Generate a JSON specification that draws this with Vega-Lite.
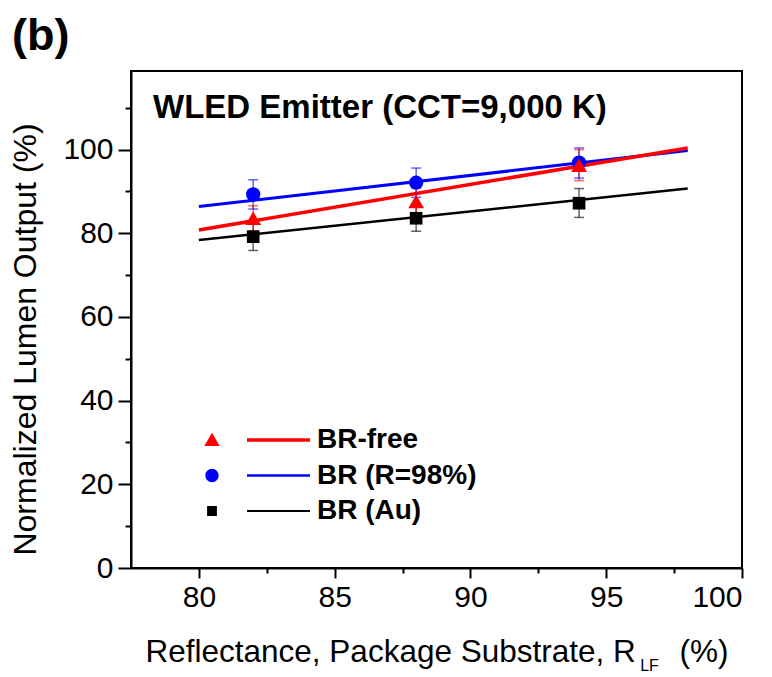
{
  "$schema": "https://vega.github.io/schema/vega-lite/v6.json",
  "width": 611,
  "height": 497,
  "autosize": {"type": "none"},
  "padding": {"left": 131, "top": 71, "right": 30, "bottom": 109},
  "background": "white",
  "title": {"text": "(b)", "anchor": "start", "frame": "group", "fontSize": 45, "fontWeight": "bold", "font": "Liberation Sans", "color": "black", "dx": -119, "dy": 43, "offset": 19, "baseline": "alphabetic"},
  "config": {
    "font": "Liberation Sans",
    "view": {"stroke": "black", "strokeWidth": 2},
    "axis": {"grid": false, "domainColor": "black", "domainWidth": 2, "tickColor": "black", "tickWidth": 2, "labelFontSize": 30, "labelColor": "black", "titleFontSize": 31.5, "titleFontWeight": "normal", "titleColor": "black"},
    "legend": {"padding": 0}
  },
  "resolve": {"scale": {"shape": "independent", "fill": "independent"}},
  "datasets": {
    "pts": [
      {"x": 82, "y": 79.2, "lo": 75.9, "hi": 82.5, "series": "BR (Au)"},
      {"x": 88, "y": 83.6, "lo": 80.5, "hi": 86.7, "series": "BR (Au)"},
      {"x": 94, "y": 87.2, "lo": 83.8, "hi": 90.7, "series": "BR (Au)"},
      {"x": 82, "y": 89.3, "lo": 85.8, "hi": 92.8, "series": "BR (R=98%)"},
      {"x": 88, "y": 92.1, "lo": 88.6, "hi": 95.6, "series": "BR (R=98%)"},
      {"x": 94, "y": 96.9, "lo": 93.2, "hi": 100.4, "series": "BR (R=98%)"},
      {"x": 82, "y": 83.6, "lo": 80.6, "hi": 86.6, "series": "BR-free"},
      {"x": 88, "y": 87.6, "lo": 84.4, "hi": 90.8, "series": "BR-free"},
      {"x": 94, "y": 96.3, "lo": 92.6, "hi": 100.0, "series": "BR-free"}
    ],
    "fits": [
      {"x": 80, "y": 78.4, "fit": "BR (Au)"},
      {"x": 98, "y": 90.7, "fit": "BR (Au)"},
      {"x": 80, "y": 86.4, "fit": "BR (R=98%)"},
      {"x": 98, "y": 99.8, "fit": "BR (R=98%)"},
      {"x": 80, "y": 80.8, "fit": "BR-free"},
      {"x": 98, "y": 100.4, "fit": "BR-free"}
    ],
    "labels": [
      {"x": 78.31, "y": 109.9, "text": "WLED Emitter (CCT=9,000 K)"}
    ],
    "sub": [
      {"x": 96.25, "y": -24.6, "text": "LF"}
    ]
  },
  "layer": [
    {
      "data": {"name": "fits"},
      "mark": {"type": "line"},
      "encoding": {
        "x": {"field": "x", "type": "quantitative", "scale": {"domain": [77.5, 100], "nice": false, "zero": false},
          "axis": {"values": [80, 82.5, 85, 87.5, 90, 92.5, 95, 97.5, 100], "labelExpr": "datum.value % 5 === 0 ? datum.label : ''", "tickSize": {"condition": {"test": "datum.value % 5 === 0", "value": 10}, "value": 5}, "labelPadding": 4, "title": "Reflectance, Package Substrate, R\u00a0\u00a0\u00a0\u00a0\u00a0(%)", "titlePadding": 24}},
        "y": {"field": "y", "type": "quantitative", "scale": {"domain": [0, 118.8], "nice": false},
          "axis": {"values": [0, 10, 20, 30, 40, 50, 60, 70, 80, 90, 100, 110], "labelExpr": "datum.value % 20 === 0 ? datum.label : ''", "tickSize": {"condition": {"test": "datum.value % 20 === 0", "value": 13}, "value": 6}, "labelPadding": 5, "title": "Normalized Lumen Output (%)", "titleFontSize": 32, "titleY": 268, "titlePadding": 20}},
        "stroke": {"field": "fit", "type": "nominal", "scale": {"domain": ["BR-free", "BR (R=98%)", "BR (Au)"], "range": ["#ff0000", "#0000ff", "#000000"]}, "legend": null},
        "strokeWidth": {"field": "fit", "type": "nominal", "scale": {"domain": ["BR-free", "BR (R=98%)", "BR (Au)"], "range": [3.5, 2.5, 1.8]}, "legend": null}
      }
    },
    {
      "data": {"name": "pts"},
      "mark": {"type": "rule", "strokeWidth": 1.5, "opacity": 0.6},
      "encoding": {
        "x": {"field": "x", "type": "quantitative"},
        "y": {"field": "lo", "type": "quantitative"},
        "y2": {"field": "hi"},
        "color": {"field": "series", "type": "nominal", "legend": null}
      }
    },
    {
      "data": {"name": "pts"},
      "mark": {"type": "tick", "orient": "horizontal", "size": 10, "thickness": 1.5, "opacity": 0.6},
      "encoding": {
        "x": {"field": "x", "type": "quantitative"},
        "y": {"field": "lo", "type": "quantitative"},
        "color": {"field": "series", "type": "nominal", "legend": null}
      }
    },
    {
      "data": {"name": "pts"},
      "mark": {"type": "tick", "orient": "horizontal", "size": 10, "thickness": 1.5, "opacity": 0.6},
      "encoding": {
        "x": {"field": "x", "type": "quantitative"},
        "y": {"field": "hi", "type": "quantitative"},
        "color": {"field": "series", "type": "nominal", "legend": null}
      }
    },
    {
      "data": {"name": "pts"},
      "mark": {"type": "point", "filled": true, "opacity": 1},
      "encoding": {
        "x": {"field": "x", "type": "quantitative"},
        "y": {"field": "y", "type": "quantitative"},
        "size": {"field": "series", "type": "nominal", "scale": {"domain": ["BR-free", "BR (R=98%)", "BR (Au)"], "range": [250, 160, 150]}, "legend": null},
        "color": {"field": "series", "type": "nominal", "scale": {"domain": ["BR-free", "BR (R=98%)", "BR (Au)"], "range": ["#ff0000", "#0000ff", "#000000"]}, "legend": null},
        "shape": {"field": "series", "type": "nominal", "scale": {"domain": ["BR-free", "BR (R=98%)", "BR (Au)"], "range": ["triangle-up", "circle", "square"]}, "legend": null}
      }
    },
    {
      "data": {"name": "fits"},
      "mark": {"type": "point", "filled": true, "opacity": 0},
      "encoding": {
        "x": {"field": "x", "type": "quantitative"},
        "y": {"field": "y", "type": "quantitative"},
        "fill": {"field": "fit", "type": "nominal", "scale": {"domain": ["BR-free", "BR (R=98%)", "BR (Au)"], "range": ["#ff0000", "#0000ff", "#000000"]},
          "legend": {"orient": "none", "legendX": 67, "legendY": 355, "title": null, "symbolSize": 196, "symbolOpacity": 1, "symbolStrokeWidth": 0, "symbolFillColor": "transparent", "labelFontSize": 28, "labelFontWeight": "bold", "labelColor": "black", "labelFont": "Liberation Sans", "rowPadding": 7.5, "labelOffset": 91}},
        "shape": {"field": "fit", "type": "nominal", "scale": {"domain": ["BR-free", "BR (R=98%)", "BR (Au)"], "range": ["M0,-1.05L1.1,0.85L-1.1,0.85ZM5,-0.25H14V0.25H5Z", "M-0.95,0A0.95,0.95,0,1,0,0.95,0A0.95,0.95,0,1,0,-0.95,0ZM5,-0.18H14V0.18H5Z", "M-0.7,-0.7H0.7V0.7H-0.7ZM5,-0.13H14V0.13H5Z"]},
          "legend": {"orient": "none", "legendX": 67, "legendY": 355, "title": null, "symbolSize": 196, "symbolOpacity": 1, "symbolStrokeWidth": 0, "symbolFillColor": "transparent", "labelFontSize": 28, "labelFontWeight": "bold", "labelColor": "black", "labelFont": "Liberation Sans", "rowPadding": 7.5, "labelOffset": 91}}
      }
    },
    {
      "data": {"name": "labels"},
      "mark": {"type": "text", "align": "left", "baseline": "middle", "fontSize": 33, "fontWeight": "bold", "color": "black"},
      "encoding": {
        "x": {"field": "x", "type": "quantitative"},
        "y": {"field": "y", "type": "quantitative"},
        "text": {"field": "text"}
      }
    },
    {
      "data": {"name": "sub"},
      "mark": {"type": "text", "align": "left", "baseline": "alphabetic", "fontSize": 16, "color": "black"},
      "encoding": {
        "x": {"field": "x", "type": "quantitative"},
        "y": {"field": "y", "type": "quantitative"},
        "text": {"field": "text"}
      }
    }
  ]
}
